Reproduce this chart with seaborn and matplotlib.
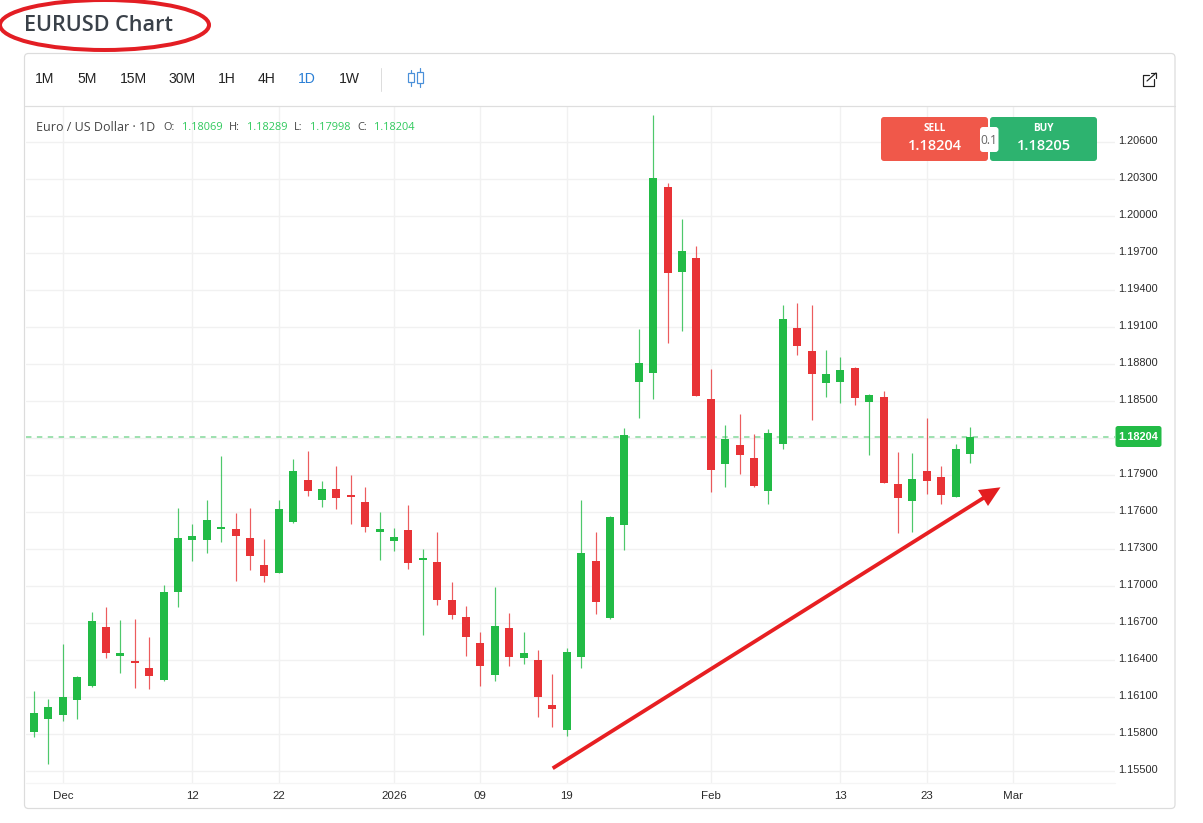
import pandas as pd
import matplotlib.pyplot as plt
import seaborn as sns
from matplotlib.patches import Ellipse, FancyBboxPatch, Polygon, Rectangle
from matplotlib.transforms import ScaledTranslation

# Daily EURUSD candles
opens = [1.15813, 1.15922, 1.15951, 1.16076, 1.16184, 1.16665, 1.16430, 1.16386, 1.16335, 1.16238,
         1.16949, 1.17373, 1.17370, 1.17462, 1.17457, 1.17384, 1.17165, 1.17105, 1.17516, 1.17854,
         1.17692, 1.17781, 1.17732, 1.17681, 1.17438, 1.17365, 1.17451, 1.17211, 1.17189, 1.16881,
         1.16743, 1.16532, 1.16276, 1.16657, 1.16416, 1.16397, 1.16030, 1.15827, 1.16424, 1.17197,
         1.16738, 1.17492, 1.18652, 1.18727, 1.20235, 1.19543, 1.19660, 1.18514, 1.17987, 1.18141,
         1.18038, 1.17770, 1.18152, 1.19087, 1.18901, 1.18644, 1.18655, 1.18768, 1.18493, 1.18530,
         1.17825, 1.17684, 1.17928, 1.17884, 1.17722, 1.18069]
highs = [1.16146, 1.16081, 1.16527, 1.16265, 1.16784, 1.16827, 1.16724, 1.16727, 1.16581, 1.17003,
         1.17627, 1.17500, 1.17692, 1.18051, 1.17586, 1.17632, 1.17381, 1.17697, 1.18024, 1.18092,
         1.17846, 1.17970, 1.17897, 1.17800, 1.17597, 1.17467, 1.17654, 1.17295, 1.17435, 1.17032,
         1.16835, 1.16627, 1.16989, 1.16781, 1.16622, 1.16476, 1.16284, 1.16495, 1.17692, 1.17435,
         1.17565, 1.18276, 1.19079, 1.20816, 1.20262, 1.19970, 1.19754, 1.18757, 1.18300, 1.18389,
         1.18227, 1.18270, 1.19276, 1.19295, 1.19279, 1.18909, 1.18852, 1.18771, 1.18555, 1.18582,
         1.18087, 1.18079, 1.18360, 1.17968, 1.18152, 1.18289]
lows = [1.15776, 1.15557, 1.15905, 1.15922, 1.16181, 1.16416, 1.16289, 1.16173, 1.16159, 1.16230,
        1.16830, 1.17203, 1.17267, 1.17357, 1.17038, 1.17130, 1.17032, 1.17105, 1.17505, 1.17730,
        1.17635, 1.17622, 1.17500, 1.17438, 1.17205, 1.17284, 1.17138, 1.16597, 1.16846, 1.16732,
        1.16432, 1.16189, 1.16224, 1.16351, 1.16362, 1.15938, 1.15854, 1.15786, 1.16335, 1.16767,
        1.16730, 1.17289, 1.18362, 1.18514, 1.18965, 1.19068, 1.18535, 1.17762, 1.17803, 1.17906,
        1.17803, 1.17662, 1.18108, 1.18873, 1.18341, 1.18533, 1.18484, 1.18468, 1.18063, 1.17830,
        1.17425, 1.17439, 1.17747, 1.17666, 1.17717, 1.17998]
closes = [1.15965, 1.16016, 1.16097, 1.16262, 1.16716, 1.16454, 1.16451, 1.16373, 1.16265, 1.16951,
          1.17389, 1.17403, 1.17535, 1.17476, 1.17403, 1.17238, 1.17076, 1.17619, 1.17927, 1.17765,
          1.17781, 1.17713, 1.17722, 1.17478, 1.17462, 1.17397, 1.17181, 1.17224, 1.16886, 1.16762,
          1.16586, 1.16351, 1.16670, 1.16424, 1.16454, 1.16100, 1.16003, 1.16465, 1.17262, 1.16870,
          1.17557, 1.18225, 1.18806, 1.20308, 1.19538, 1.19711, 1.18535, 1.17935, 1.18189, 1.18062,
          1.17808, 1.18235, 1.19160, 1.18943, 1.18714, 1.18720, 1.18747, 1.18520, 1.18544, 1.17836,
          1.17709, 1.17863, 1.17849, 1.17733, 1.18106, 1.18204]

date_tick_pos = [2, 11, 17, 25, 31, 37, 47, 56, 62, 68]
date_tick_labels = ['Dec', '12', '22', '2026', '09', '19', 'Feb', '13', '23', 'Mar']
price_ticks = [1.155, 1.158, 1.161, 1.164, 1.167, 1.170, 1.173, 1.176, 1.179,
               1.182, 1.185, 1.188, 1.191, 1.194, 1.197, 1.200, 1.203, 1.206]
timeframes = ['1M', '5M', '15M', '30M', '1H', '4H', '1D', '1W']
timeframe_x = [45, 87, 133, 182, 227, 267, 307, 349]

GREEN = '#22bb46'
RED = '#e83336'
GRID = '#f1f1f1'
W, H = 1203, 823


def px(n):
    # pixels to points at dpi 100
    return n * 0.72


def main():
    sns.set_theme(style='whitegrid', rc={'grid.color': GRID, 'grid.linewidth': px(1.4)})
    plt.rcParams['font.family'] = ['Liberation Sans', 'DejaVu Sans']

    candles = pd.DataFrame({'day': range(len(opens)), 'open': opens, 'high': highs,
                            'low': lows, 'close': closes})
    candles['side'] = ['up' if c >= o else 'down' for o, c in zip(opens, closes)]
    wicks = candles.melt(id_vars=['day', 'side'], value_vars=['low', 'high'], value_name='price')
    bodies = candles.melt(id_vars=['day', 'side'], value_vars=['open', 'close'], value_name='price')
    palette = {'up': GREEN, 'down': RED}

    fig = plt.figure(figsize=(W / 100, H / 100), dpi=100, facecolor='white')
    left, right, top, bottom = 26, 1115, 106, 783
    ax = fig.add_axes([left / W, 1 - bottom / H, (right - left) / W, (bottom - top) / H])

    sns.lineplot(data=wicks, x='day', y='price', hue='side', palette=palette, units='day',
                 estimator=None, linewidth=px(1.2), alpha=0.8, legend=False, ax=ax,
                 solid_capstyle='butt')
    sns.lineplot(data=bodies, x='day', y='price', hue='side', palette=palette, units='day',
                 estimator=None, linewidth=px(8), legend=False, ax=ax, solid_capstyle='butt')

    ax.axhline(closes[-1], color='#8fdca3', lw=px(1.7), dashes=(3.2, 3.2), zorder=1.5)

    ax.set_xlim(-0.556, 75.07)
    ax.set_ylim(1.15401, 1.20889)
    ax.set_xticks(date_tick_pos, date_tick_labels)
    # the 1.18200 label sits behind the last-price tag in the original
    ax.set_yticks(price_ticks, ['' if p == 1.182 else f'{p:.5f}' for p in price_ticks])
    ax.yaxis.tick_right()
    ax.tick_params(axis='y', length=0, labelsize=px(11), labelcolor='#2b2b2b', pad=px(3.5))
    ax.tick_params(axis='x', length=0, labelsize=px(11.5), labelcolor='#2b2b2b', pad=px(8))
    # price labels sit a little above their grid lines
    nudge = ScaledTranslation(0, 1.3 / 100, fig.dpi_scale_trans)
    for tick in ax.yaxis.get_major_ticks():
        tick.label2.set_transform(tick.label2.get_transform() + nudge)
    ax.set_xlabel('')
    ax.set_ylabel('')
    sns.despine(ax=ax, left=True, bottom=True, right=True, top=True)

    # page furniture, in picture pixels
    ui = fig.add_axes([0, 0, 1, 1], facecolor='none')
    ui.set_xlim(0, W)
    ui.set_ylim(H, 0)
    ui.axis('off')

    ui.add_patch(FancyBboxPatch((24.5, 53.5), 1150.5, 755, boxstyle='round,pad=0,rounding_size=4',
                                fc='none', ec='#dcdcdc', lw=px(1.2)))
    ui.plot([25, 1175], [105.5, 105.5], color='#dedede', lw=px(1.2))
    ui.plot([26, 1115], [783, 783], color='#f5f5f5', lw=px(1.2))

    ui.text(24, 25, 'EURUSD Chart', family='Open Sans', weight=600, fontsize=px(21.6),
            color='#3a4149', va='center', ha='left')
    ui.add_patch(Ellipse((104.5, 25), 209, 50, fc='none', ec='#e31e24', lw=px(4)))

    for label, x in zip(timeframes, timeframe_x):
        ui.text(x, 79, label, fontsize=px(14), ha='center', va='center',
                color='#2a7fd5' if label == '1D' else '#222222')
    ui.plot([381, 381], [68, 91], color='#dddddd', lw=px(1))

    # candle icon
    for x0, x1, y0, y1, w0, w1 in [(407.5, 413.5, 72.7, 82, 70, 85.6), (417, 422.5, 71.7, 83, 68, 87)]:
        ui.add_patch(Rectangle((x0, y0), x1 - x0, y1 - y0, fc='white', ec='#4a90d9', lw=px(1.2)))
        ui.plot([(x0 + x1) / 2] * 2, [w0, y0], color='#4a90d9', lw=px(1.2))
        ui.plot([(x0 + x1) / 2] * 2, [y1, w1], color='#4a90d9', lw=px(1.2))

    # open-in-new icon
    ui.plot([1149, 1142.5, 1142.5, 1153.5, 1153.5], [75, 75, 85.5, 85.5, 79], color='#222222', lw=px(1.2))
    ui.plot([1147, 1156], [81, 73], color='#222222', lw=px(1.2))
    ui.plot([1151, 1156, 1156], [73, 73, 78], color='#222222', lw=px(1.2))

    # OHLC legend
    ui.text(36, 127, 'Euro / US Dollar · 1D', fontsize=px(12.5), color='#444444', family='Open Sans', va='center')
    for label, x in zip(['O:', 'H:', 'L:', 'C:'], [163, 229, 294, 357]):
        ui.text(x, 127.5, label, fontsize=px(11), color='#444444', family='Open Sans', va='center')
    ohlc_text = [opens[-1], highs[-1], lows[-1], closes[-1]]
    for value, x in zip(ohlc_text, [182, 247, 310, 374]):
        ui.text(x, 127.5, f'{value:.5f}', fontsize=px(11), color='#2fc95c', family='Open Sans', va='center')

    # sell / buy box
    ui.add_patch(FancyBboxPatch((881, 117), 107, 44, boxstyle='round,pad=0,rounding_size=3',
                                fc='#f0584a', ec='none'))
    ui.add_patch(FancyBboxPatch((990, 117), 107, 44, boxstyle='round,pad=0,rounding_size=3',
                                fc='#2db36f', ec='none'))
    ui.add_patch(FancyBboxPatch((980, 127), 18.5, 25, boxstyle='round,pad=0,rounding_size=3',
                                fc='white', ec='none'))
    ui.text(989, 140, '0.1', fontsize=px(12), color='#666666', family='Open Sans', ha='center', va='center')
    ui.text(934.5, 128, 'SELL', fontsize=px(10), color='white', weight='bold', family='Open Sans', ha='center', va='center')
    ui.text(1043.5, 128, 'BUY', fontsize=px(10), color='white', weight='bold', family='Open Sans', ha='center', va='center')
    ui.text(935, 146, '1.18204', fontsize=px(14.5), color='white', weight=600, family='Open Sans', ha='center', va='center')
    ui.text(1043.5, 146, '1.18205', fontsize=px(14.5), color='white', weight=600, family='Open Sans', ha='center', va='center')

    # last price tag
    ui.add_patch(FancyBboxPatch((1115.5, 426), 46, 21, boxstyle='round,pad=0,rounding_size=2.5',
                                fc=GREEN, ec='none'))
    ui.text(1138.5, 436.5, f'{closes[-1]:.5f}', fontsize=px(11), color='white', weight='bold',
            ha='center', va='center')

    # hand-drawn red arrow
    ui.plot([552.7, 985], [768.3, 497], color='#e71f22', lw=px(3.8), solid_capstyle='butt')
    ui.add_patch(Polygon([(1000.5, 487.3), (978, 490), (988, 506)], closed=True, fc='#e31e20', ec='none'))

    plt.savefig('out.png', dpi=100)


if __name__ == '__main__':
    main()
